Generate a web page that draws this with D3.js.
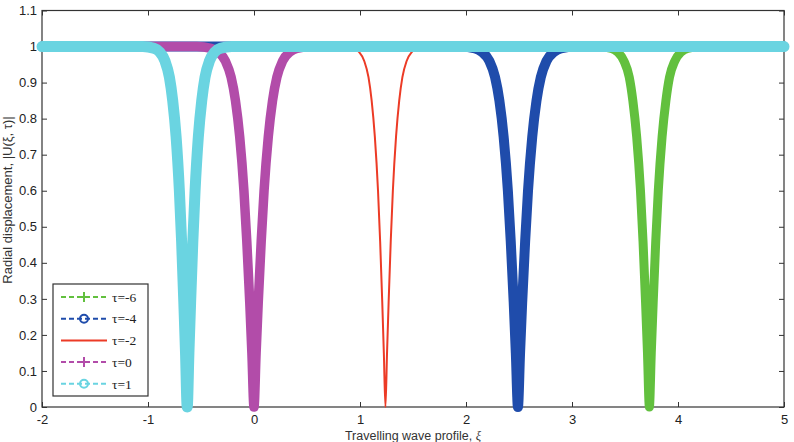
<!DOCTYPE html>
<html>
<head>
<meta charset="utf-8">
<script src="https://cdn.jsdelivr.net/npm/d3@7"></script>
<style>
  body { margin: 0; background: #fff; }
  svg { display: block; }
  .tick text { font-family: "Liberation Sans", Arial, sans-serif; font-size: 13px; fill: #222; }
  .tick line { stroke: #333; }
</style>
</head>
<body>
<svg id="plot" width="794" height="442"></svg>
<script>
// tick values
const xTicks = [-2, -1, 0, 1, 2, 3, 4, 5];
const yTicks = [0, 0.1, 0.2, 0.3, 0.4, 0.5, 0.6, 0.7, 0.8, 0.9, 1, 1.1];

// series: xi positions and |U| values
const labels = ["τ=-6", "τ=-4", "τ=-2", "τ=0", "τ=1"];

const xiTauM6 = [-2, 3.25, 3.37, 3.43, 3.49, 3.54, 3.574, 3.61, 3.646, 3.67, 3.694, 3.712, 3.73, 3.748, 3.766, 3.79, 3.814, 3.85, 3.886, 3.92, 3.97, 4.03, 4.09, 4.21, 5];
const uTauM6 = [1, 1, 0.995, 0.985, 0.96, 0.915, 0.85, 0.75, 0.6, 0.46, 0.29, 0.15, 0, 0.15, 0.29, 0.46, 0.6, 0.75, 0.85, 0.915, 0.96, 0.985, 0.995, 1, 1];

const xiTauM4 = [-2, 1.95, 2.085, 2.15, 2.22, 2.274, 2.315, 2.355, 2.395, 2.422, 2.45, 2.47, 2.49, 2.51, 2.53, 2.558, 2.585, 2.625, 2.665, 2.706, 2.76, 2.83, 2.895, 3.03, 5];
const uTauM4 = [1, 1, 0.995, 0.985, 0.96, 0.915, 0.85, 0.75, 0.6, 0.46, 0.29, 0.15, 0, 0.15, 0.29, 0.46, 0.6, 0.75, 0.85, 0.915, 0.96, 0.985, 0.995, 1, 1];

const xiTauM2 = [-2, 0.84, 0.94, 0.99, 1.04, 1.08, 1.11, 1.14, 1.17, 1.19, 1.21, 1.225, 1.24, 1.255, 1.27, 1.29, 1.31, 1.34, 1.37, 1.4, 1.44, 1.49, 1.54, 1.64, 5];
const uTauM2 = [1, 1, 0.995, 0.985, 0.96, 0.915, 0.85, 0.75, 0.6, 0.46, 0.29, 0.15, 0, 0.15, 0.29, 0.46, 0.6, 0.75, 0.85, 0.915, 0.96, 0.985, 0.995, 1, 1];

const xiTau0 = [-2, -0.54, -0.405, -0.34, -0.27, -0.216, -0.175, -0.135, -0.095, -0.068, -0.04, -0.02, 0, 0.02, 0.04, 0.068, 0.095, 0.135, 0.175, 0.216, 0.27, 0.34, 0.405, 0.54, 5];
const uTau0 = [1, 1, 0.995, 0.985, 0.96, 0.915, 0.85, 0.75, 0.6, 0.46, 0.29, 0.15, 0, 0.15, 0.29, 0.46, 0.6, 0.75, 0.85, 0.915, 0.96, 0.985, 0.995, 1, 1];

const xiTau1 = [-2, -1.05, -0.945, -0.89, -0.84, -0.798, -0.767, -0.735, -0.704, -0.683, -0.662, -0.646, -0.63, -0.614, -0.598, -0.577, -0.556, -0.525, -0.493, -0.462, -0.42, -0.37, -0.315, -0.21, 5];
const uTau1 = [1, 1, 0.995, 0.985, 0.96, 0.915, 0.85, 0.75, 0.6, 0.46, 0.29, 0.15, 0, 0.15, 0.29, 0.46, 0.6, 0.75, 0.85, 0.915, 0.96, 0.985, 0.995, 1, 1];

// set svg and plot area
const svg = d3.select("#plot");
const margin = { top: 10.5, right: 10, bottom: 35, left: 42 };
const width = +svg.attr("width");
const height = +svg.attr("height");
const chartWidth = width - margin.left - margin.right;
const chartHeight = height - margin.top - margin.bottom;

const g = svg.append("g")
  .attr("transform", `translate(${margin.left},${margin.top})`);

const x = d3.scaleLinear().domain([-2, 5]).range([0, chartWidth]);
const y = d3.scaleLinear().domain([0, 1.1]).range([chartHeight, 0]);

// series styles
const series = [
  { name: labels[0], xi: xiTauM6, u: uTauM6, color: "#62c03e", width: 9, cap: "butt", marker: "plus", dash: "5,3" },
  { name: labels[1], xi: xiTauM4, u: uTauM4, color: "#1f4cab", width: 10, cap: "round", marker: "circle", dash: "5,3" },
  { name: labels[2], xi: xiTauM2, u: uTauM2, color: "#ec3b26", width: 2, cap: "butt", marker: null, dash: null },
  { name: labels[3], xi: xiTau0, u: uTau0, color: "#b24ca9", width: 9.5, cap: "butt", marker: "plus", dash: "5,3" },
  { name: labels[4], xi: xiTau1, u: uTau1, color: "#6ad4e1", width: 11, cap: "round", marker: "circle", dash: "5,3" }
];

// axes, MATLAB style ticks pointing inward
g.append("g")
  .attr("transform", `translate(0,${chartHeight})`)
  .call(d3.axisBottom(x).tickValues(xTicks).tickSize(-5).tickPadding(8).tickFormat((d) => d))
  .call((a) => a.select(".domain").remove());

g.append("g")
  .call(d3.axisTop(x).tickValues(xTicks).tickSize(-5).tickFormat(""))
  .call((a) => a.select(".domain").remove());

g.append("g")
  .call(d3.axisLeft(y).tickValues(yTicks).tickSize(-5).tickPadding(5).tickFormat((d) => d))
  .call((a) => a.select(".domain").remove());

g.append("g")
  .attr("transform", `translate(${chartWidth},0)`)
  .call(d3.axisRight(y).tickValues(yTicks).tickSize(-5).tickFormat(""))
  .call((a) => a.select(".domain").remove());

g.append("rect")
  .attr("width", chartWidth)
  .attr("height", chartHeight)
  .attr("fill", "none")
  .attr("stroke", "#333")
  .attr("stroke-width", 1.2);

// curves
const line = d3.line()
  .x((d) => x(d[0]))
  .y((d) => y(d[1]))
  .curve(d3.curveMonotoneX);

series.forEach((s) => {
  g.append("path")
    .datum(s.xi.map((v, i) => [v, s.u[i]]))
    .attr("d", line)
    .attr("fill", "none")
    .attr("stroke", s.color)
    .attr("stroke-width", s.width)
    .attr("stroke-linejoin", "round")
    .attr("stroke-linecap", s.cap);
});

// legend
const legend = g.append("g").attr("transform", "translate(11,273.5)");
legend.append("rect")
  .attr("width", 95)
  .attr("height", 112)
  .attr("fill", "#fff")
  .attr("stroke", "#333")
  .attr("stroke-width", 1.2);

const item = legend.selectAll(".item")
  .data(series)
  .enter()
  .append("g")
  .attr("transform", (d, i) => `translate(0,${13 + i * 21.7})`);

item.append("line")
  .attr("x1", 8).attr("x2", 54)
  .attr("stroke", (d) => d.color)
  .attr("stroke-width", 2)
  .attr("stroke-dasharray", (d) => d.dash);

item.filter((d) => d.marker === "circle")
  .append("circle")
  .attr("cx", 31).attr("r", 4)
  .attr("fill", "none")
  .attr("stroke", (d) => d.color)
  .attr("stroke-width", 2);

item.filter((d) => d.marker === "plus")
  .append("path")
  .attr("d", "M26,0H36M31,-5V5")
  .attr("stroke", (d) => d.color)
  .attr("stroke-width", 2);

item.append("text")
  .attr("x", 59)
  .attr("dy", "0.35em")
  .attr("font-family", "'Liberation Serif', 'Times New Roman', serif")
  .attr("font-size", 13.5)
  .attr("fill", "#222")
  .text((d) => d.name);

// axis titles
svg.append("text")
  .attr("x", margin.left + chartWidth / 2)
  .attr("y", 440)
  .attr("text-anchor", "middle")
  .attr("font-family", "'Liberation Sans', Arial, sans-serif")
  .attr("font-size", 12.5)
  .attr("fill", "#333")
  .html('Travelling wave profile, <tspan font-style="italic" font-family="\'Liberation Serif\', serif">ξ</tspan>');

svg.append("text")
  .attr("transform", "translate(12,200) rotate(-90)")
  .attr("text-anchor", "middle")
  .attr("font-family", "'Liberation Sans', Arial, sans-serif")
  .attr("font-size", 13)
  .attr("fill", "#333")
  .text("Radial displacement, |U(ξ, τ)|");
</script>
</body>
</html>
